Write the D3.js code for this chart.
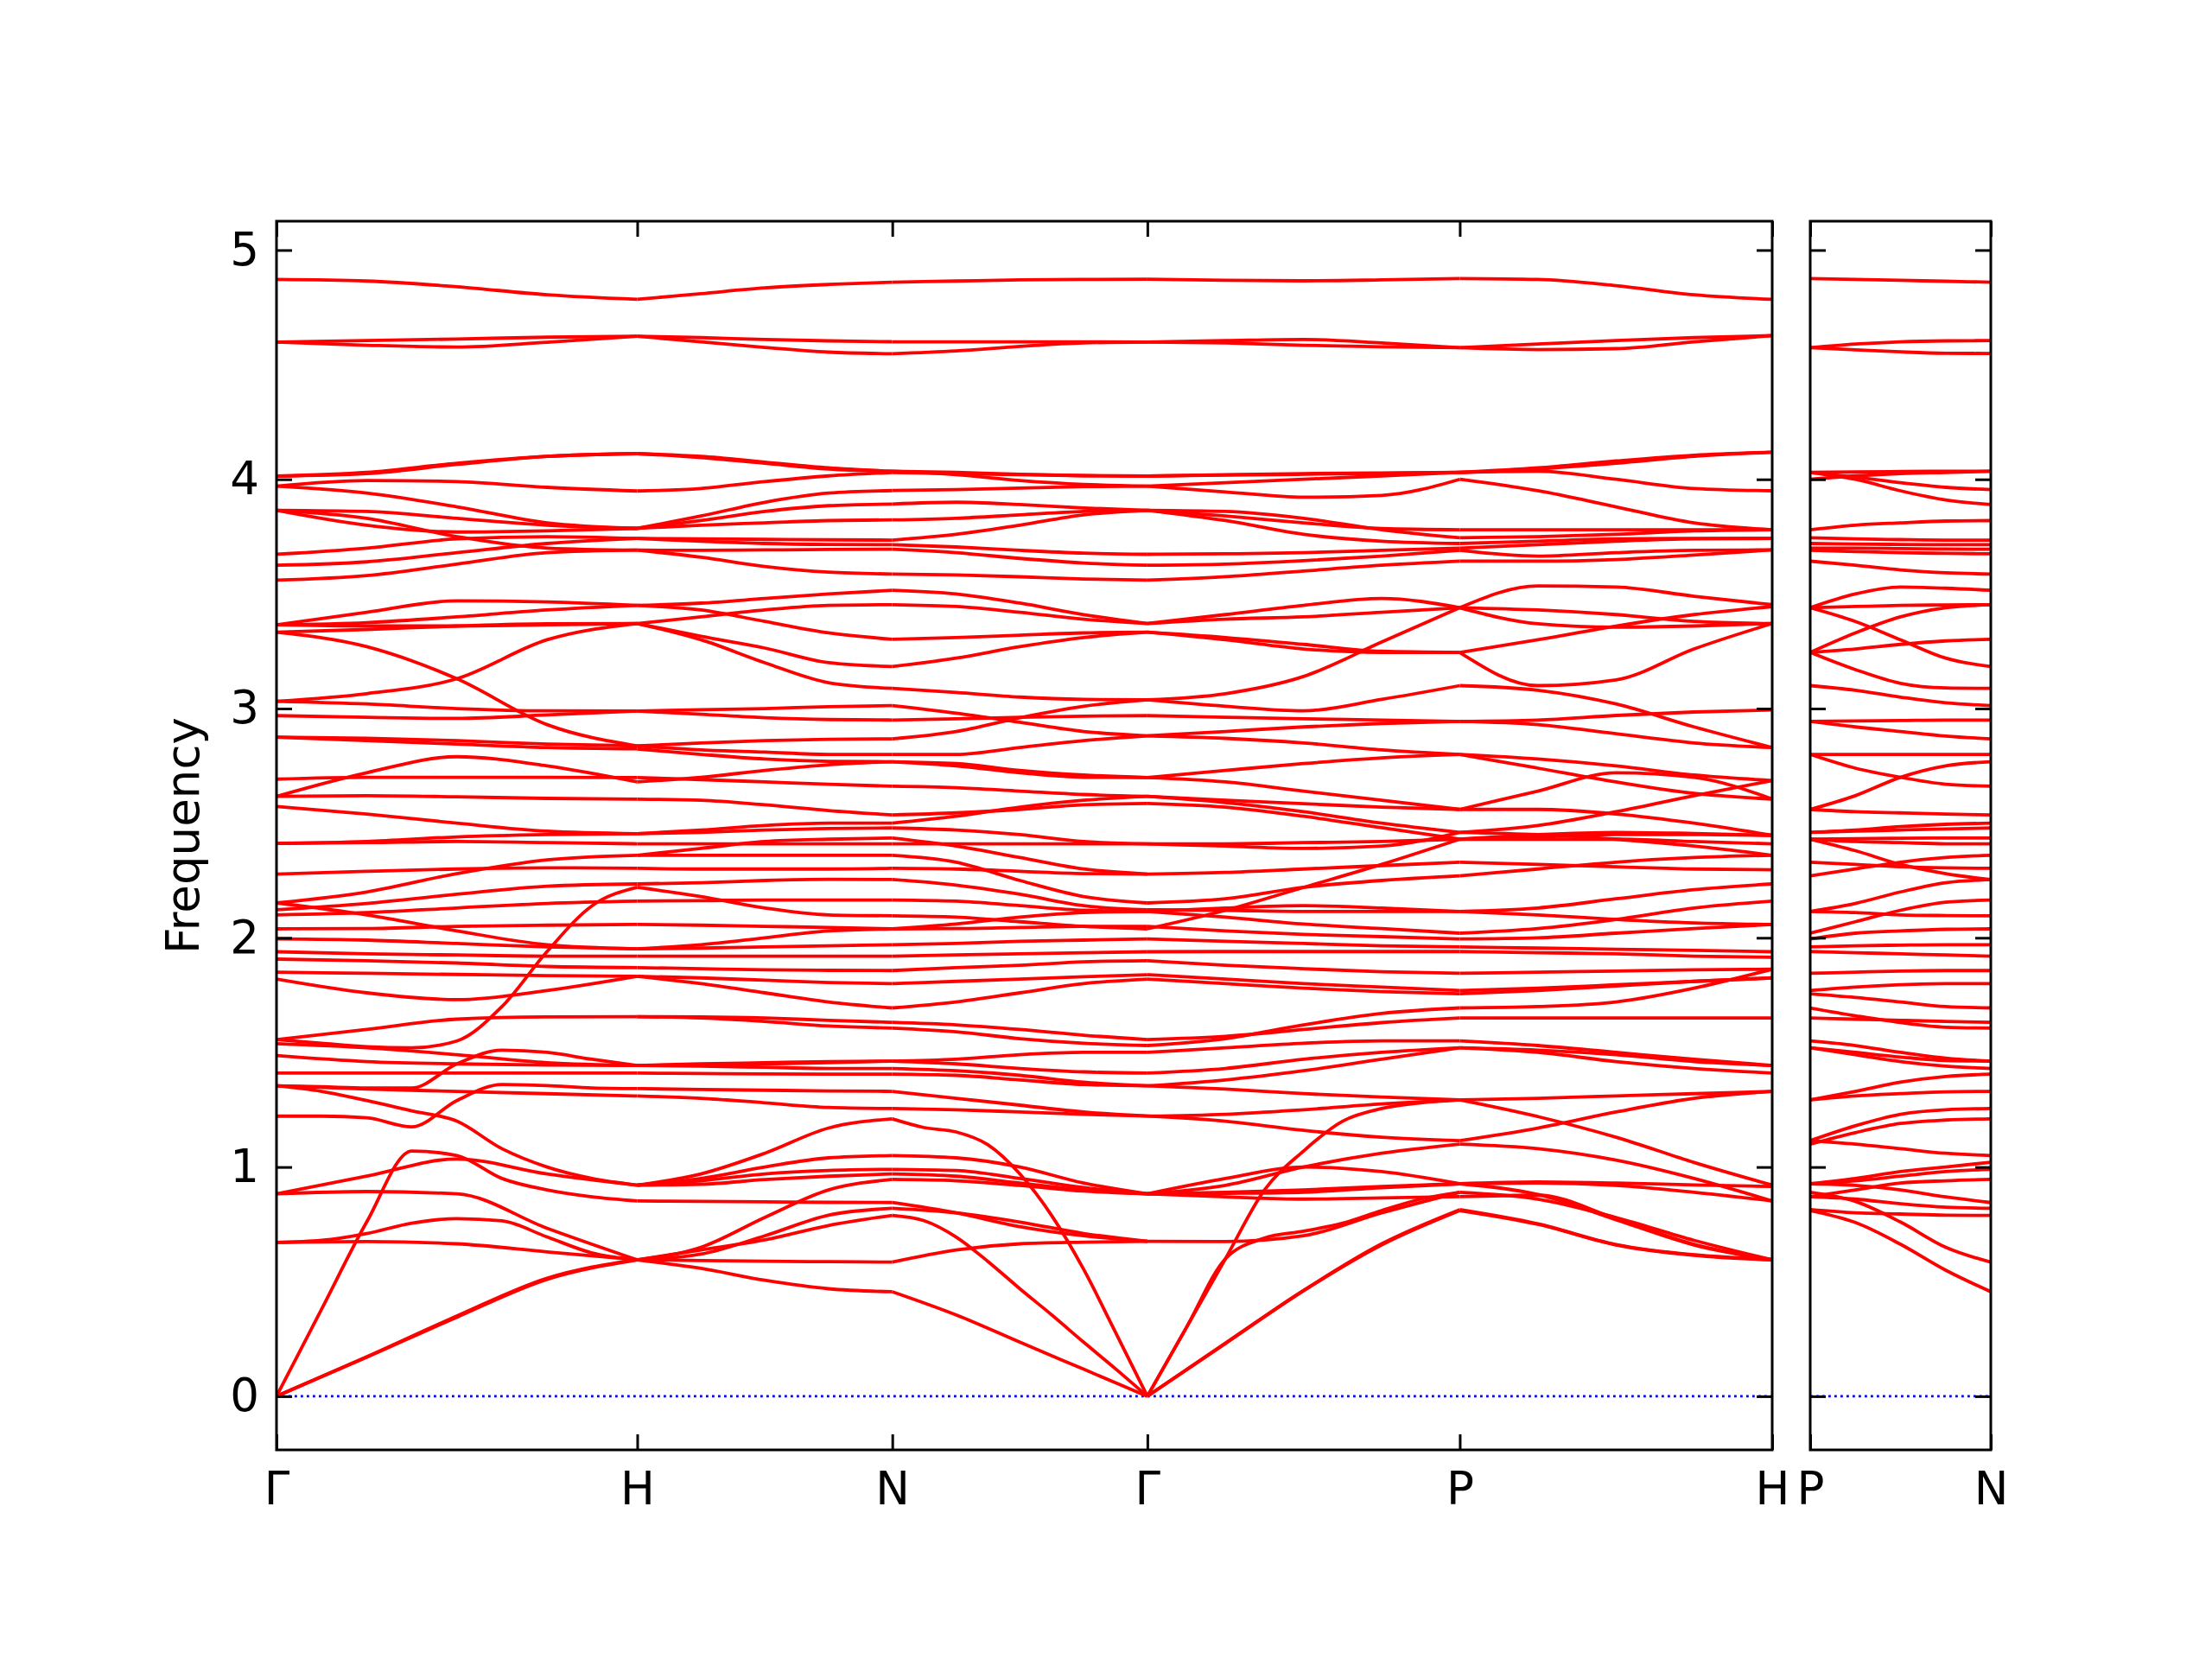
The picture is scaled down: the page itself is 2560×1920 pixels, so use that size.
<!DOCTYPE html>
<html><head><meta charset="utf-8">
<script src="https://cdn.jsdelivr.net/npm/d3@7"></script>
<style>body{margin:0;background:#fff}</style>
</head><body>
<svg id="c" width="2560" height="1920" xmlns="http://www.w3.org/2000/svg"></svg>
<script>
// ---- path / axis data ----
const pathLabels = ["Γ","H","N","Γ","P","H"];
const pathDist   = [0, 1, 1.7071, 2.4142, 3.2802, 4.1463];
const subLabels  = ["P","N"];
const subDist    = [0, 0.5];
const yTicks     = [0,1,2,3,4,5];
const yLimits    = [-0.234, 5.126];
const yLabel     = "Frequency";

// ---- band values per path segment (evenly spaced samples from start to end) ----
const bandsGH = [
[4.872,4.865,4.84,4.805,4.785],[4.599,4.605,4.612,4.62,4.624],[4.599,4.585,4.577,4.598,4.624],
[4.014,4.03,4.07,4.10,4.112],[4.014,4.025,4.065,4.10,4.112],[3.970,3.995,3.99,3.965,3.949],
[3.97,3.94,3.88,3.81,3.786],[3.865,3.86,3.83,3.80,3.786],[3.865,3.80,3.77,3.775,3.786],
[3.673,3.70,3.74,3.75,3.742],[3.625,3.64,3.68,3.72,3.742],[3.56,3.58,3.63,3.68,3.691],
[3.865,3.83,3.75,3.70,3.691],[3.365,3.42,3.47,3.465,3.45],[3.365,3.375,3.40,3.43,3.45],
[3.032,3.065,3.13,3.30,3.371],[3.333,3.345,3.36,3.37,3.371],[3.365,3.36,3.36,3.365,3.371],
[3.333,3.27,3.13,2.93,2.837],[3.032,3.02,3.00,2.99,2.989],[2.969,2.962,2.957,2.972,2.989],
[2.875,2.87,2.86,2.845,2.837],[2.875,2.86,2.845,2.83,2.824],[2.692,2.70,2.70,2.70,2.699],
[2.617,2.72,2.79,2.75,2.68],[2.573,2.54,2.50,2.465,2.454],[2.617,2.62,2.615,2.608,2.605],
[2.412,2.415,2.42,2.415,2.41],[2.412,2.42,2.44,2.45,2.454],[2.278,2.29,2.30,2.305,2.303],
[2.152,2.20,2.28,2.34,2.36],[2.122,2.15,2.19,2.225,2.235],[2.10,2.11,2.13,2.15,2.16],
[1.556,1.54,1.525,1.52,1.55,1.70,1.94,2.14,2.22],[2.039,2.04,2.05,2.055,2.058],
[1.995,1.99,1.975,1.96,1.952],[1.939,1.93,1.925,1.92,1.92],[1.907,1.90,1.89,1.875,1.87],
[1.85,1.845,1.84,1.835,1.832],[1.82,1.76,1.73,1.77,1.832],[2.152,2.10,2.03,1.97,1.952],
[1.556,1.60,1.645,1.655,1.656],[1.538,1.52,1.49,1.455,1.443],[1.486,1.46,1.45,1.445,1.443],
[1.41,1.41,1.41,1.41,1.41],[1.354,1.35,1.345,1.345,1.45,1.51,1.50,1.47,1.443],
[1.222,1.222,1.215,1.175,1.29,1.36,1.355,1.345,1.342],[1.354,1.34,1.33,1.32,1.31],
[1.354,1.33,1.29,1.245,1.20,1.08,1.00,0.95,0.921],[0.883,0.893,0.883,0.733,0.595],
[0.883,0.96,1.035,0.97,0.921],[0,0.38,0.76,1.07,1.05,0.95,0.90,0.87,0.852],
[0,0.17,0.345,0.51,0.595],[0,0.172,0.35,0.515,0.597],
[0.671,0.68,0.71,0.755,0.775,0.765,0.695,0.625,0.595],[0.671,0.675,0.665,0.63,0.595]
];
const bandsHN = [
[4.785,4.81,4.835,4.85,4.86],[4.624,4.618,4.61,4.604,4.60],[4.624,4.60,4.575,4.555,4.548],
[4.112,4.10,4.075,4.05,4.035],[4.112,4.095,4.07,4.045,4.035],[3.949,3.96,3.99,4.015,4.03],
[3.786,3.84,3.90,3.94,3.951],[3.786,3.82,3.86,3.885,3.892],[3.786,3.80,3.81,3.82,3.823],
[3.742,3.74,3.738,3.736,3.735],[3.742,3.73,3.72,3.716,3.715],[3.691,3.69,3.692,3.694,3.695],
[3.691,3.66,3.62,3.595,3.587],[3.45,3.46,3.48,3.50,3.516],[3.45,3.43,3.38,3.33,3.302],
[3.371,3.315,3.264,3.20,3.183],[3.371,3.30,3.20,3.113,3.088],[3.371,3.40,3.43,3.45,3.453],
[2.989,2.995,3.00,3.008,3.013],[2.989,2.975,2.96,2.952,2.95],[2.837,2.85,2.86,2.866,2.868],
[2.837,2.82,2.81,2.80,2.80],[2.824,2.80,2.78,2.77,2.768],[2.699,2.69,2.68,2.67,2.661],
[2.68,2.70,2.73,2.755,2.768],[2.605,2.60,2.58,2.555,2.536],[2.454,2.47,2.49,2.50,2.50],
[2.41,2.41,2.41,2.41,2.41],[2.454,2.46,2.47,2.477,2.479],[2.36,2.39,2.42,2.43,2.435],
[2.303,2.30,2.30,2.30,2.303],[2.36,2.36,2.36,2.36,2.36],[2.235,2.24,2.25,2.255,2.254],
[2.16,2.162,2.165,2.165,2.165],[2.22,2.18,2.13,2.10,2.096],[2.058,2.055,2.05,2.045,2.039],
[1.952,1.955,1.96,1.965,1.97],[1.952,1.97,2.00,2.03,2.039],[1.92,1.92,1.92,1.92,1.92],
[1.87,1.865,1.86,1.858,1.857],[1.832,1.825,1.815,1.805,1.80],[1.832,1.80,1.76,1.72,1.694],
[1.656,1.655,1.65,1.64,1.631],[1.656,1.65,1.635,1.615,1.606],[1.443,1.445,1.45,1.455,1.462],
[1.443,1.45,1.455,1.46,1.462],[1.443,1.44,1.435,1.43,1.43],[1.41,1.408,1.406,1.405,1.405],
[1.342,1.338,1.335,1.332,1.33],[1.31,1.30,1.28,1.26,1.255],[0.921,0.97,1.06,1.17,1.21],
[0.921,0.925,0.945,0.96,0.97],[0.921,0.94,0.97,0.985,0.99],[0.921,0.95,1.0,1.04,1.05],
[0.852,0.85,0.848,0.846,0.845],[0.595,0.62,0.70,0.79,0.82],[0.595,0.65,0.78,0.90,0.946],
[0.595,0.558,0.506,0.469,0.456],[0.595,0.638,0.682,0.745,0.789],[0.595,0.592,0.589,0.587,0.585]
];
const bandsNG = [
[4.86,4.865,4.87,4.872,4.873],[4.60,4.60,4.60,4.60,4.599],[4.548,4.56,4.58,4.595,4.599],
[4.035,4.03,4.022,4.016,4.014],[4.035,4.02,3.995,3.978,3.97],[4.03,4.025,4.02,4.016,4.014],
[3.951,3.955,3.962,3.968,3.97],[3.892,3.90,3.89,3.875,3.865],[3.823,3.83,3.845,3.86,3.865],
[3.735,3.76,3.80,3.845,3.865],[3.715,3.705,3.69,3.678,3.673],[3.695,3.68,3.655,3.635,3.625],
[3.587,3.583,3.575,3.565,3.56],[3.516,3.50,3.46,3.41,3.371],[3.453,3.445,3.42,3.39,3.371],
[3.302,3.31,3.32,3.33,3.333],[3.183,3.22,3.27,3.31,3.333],[3.088,3.07,3.05,3.04,3.038],
[3.013,2.98,2.94,2.90,2.881],[2.95,2.955,2.962,2.967,2.969],[2.868,2.90,2.96,3.01,3.038],
[2.80,2.80,2.83,2.86,2.881],[2.768,2.76,2.73,2.71,2.699],[2.768,2.75,2.72,2.70,2.699],
[2.661,2.655,2.64,2.625,2.617],[2.536,2.545,2.56,2.58,2.586],[2.50,2.53,2.57,2.60,2.617],
[2.479,2.47,2.45,2.42,2.41],[2.41,2.41,2.41,2.41,2.41],[2.435,2.40,2.35,2.30,2.278],
[2.303,2.30,2.29,2.28,2.278],[2.36,2.33,2.25,2.18,2.152],[2.254,2.23,2.19,2.14,2.122],
[2.165,2.16,2.14,2.12,2.115],[2.096,2.09,2.07,2.05,2.039],[2.039,2.04,2.045,2.05,2.05],
[2.039,2.06,2.09,2.11,2.115],[1.97,1.975,1.985,1.99,1.995],[1.92,1.925,1.93,1.935,1.939],
[1.857,1.87,1.88,1.895,1.90],[1.80,1.81,1.82,1.83,1.839],[1.694,1.72,1.76,1.80,1.82],
[1.631,1.62,1.60,1.575,1.556],[1.606,1.59,1.56,1.54,1.53],[1.462,1.47,1.49,1.50,1.50],
[1.462,1.45,1.43,1.415,1.41],[1.43,1.42,1.40,1.37,1.354],[1.405,1.40,1.38,1.36,1.354],
[1.33,1.30,1.27,1.24,1.222],[1.255,1.25,1.24,1.23,1.222],
[1.21,1.172,1.153,1.097,0.97,0.788,0.554,0.279,0],
[0.97,0.96,0.93,0.90,0.883],[0.99,0.985,0.95,0.91,0.883],[1.05,1.04,1.00,0.93,0.883],
[0.946,0.94,0.92,0.895,0.883],[0.845,0.80,0.74,0.70,0.676],[0.82,0.80,0.76,0.71,0.676],
[0.456,0.355,0.236,0.118,0],[0.789,0.766,0.695,0.588,0.469,0.355,0.236,0.12,0],
[0.585,0.638,0.665,0.672,0.676]
];
const bandsGP = [
[4.873,4.868,4.866,4.87,4.876],[4.599,4.605,4.61,4.595,4.574],[4.599,4.595,4.585,4.578,4.574],
[4.014,4.02,4.025,4.028,4.03],[3.97,3.985,4.0,4.015,4.03],[4.014,4.018,4.022,4.026,4.03],
[3.97,3.945,3.922,3.93,4.00],[3.865,3.84,3.81,3.785,3.78],[3.865,3.86,3.83,3.78,3.745],
[3.865,3.82,3.76,3.73,3.72],[3.673,3.675,3.68,3.69,3.70],[3.625,3.63,3.645,3.665,3.69],
[3.56,3.575,3.60,3.625,3.643],[3.371,3.41,3.45,3.48,3.44],[3.371,3.39,3.40,3.42,3.44],
[3.333,3.31,3.28,3.25,3.245],[3.333,3.30,3.26,3.245,3.245],[3.038,3.065,3.14,3.29,3.44],
[3.038,3.01,2.99,3.04,3.10],[2.969,2.962,2.955,2.95,2.944],[2.881,2.87,2.85,2.82,2.80],
[2.881,2.90,2.92,2.935,2.944],[2.699,2.73,2.76,2.785,2.80],[2.699,2.68,2.64,2.60,2.56],
[2.617,2.60,2.585,2.57,2.56],[2.617,2.59,2.55,2.50,2.46],[2.586,2.57,2.53,2.48,2.43],
[2.41,2.41,2.415,2.42,2.43],[2.41,2.40,2.39,2.40,2.46],[2.278,2.285,2.30,2.315,2.33],
[2.152,2.17,2.22,2.25,2.27],[2.122,2.12,2.115,2.115,2.115],[2.115,2.09,2.06,2.04,2.02],
[2.039,2.12,2.22,2.32,2.43],[2.05,2.03,2.015,2.005,1.995],[2.115,2.13,2.14,2.13,2.115],
[1.995,1.985,1.975,1.965,1.96],[1.939,1.94,1.94,1.94,1.94],[1.90,1.88,1.865,1.852,1.845],
[1.839,1.82,1.80,1.785,1.77],[1.82,1.80,1.78,1.765,1.756],[1.556,1.57,1.60,1.63,1.65],
[1.53,1.56,1.62,1.67,1.694],[1.50,1.52,1.54,1.55,1.55],[1.41,1.43,1.47,1.50,1.52],
[1.354,1.34,1.32,1.305,1.293],[1.354,1.38,1.42,1.47,1.52],[1.222,1.23,1.25,1.275,1.293],
[1.222,1.20,1.16,1.13,1.115],[0,0.30,0.60,0.90,1.07,1.20,1.255,1.28,1.293],
[0,0.30,0.60,0.69,0.72,0.755,0.81,0.86,0.89],[0.676,0.675,0.70,0.80,0.89],
[0.883,0.89,0.90,0.915,0.927],[0.883,0.95,1.0,0.98,0.927],[0.883,0.87,0.86,0.865,0.871],
[0.883,0.92,1.0,1.06,1.10],[0.883,0.885,0.89,0.91,0.927],
[0,0.23,0.46,0.66,0.81],[0,0.232,0.462,0.665,0.814]
];
const bandsPH = [
[4.876,4.872,4.845,4.805,4.785],[4.574,4.59,4.605,4.618,4.627],[4.574,4.566,4.57,4.60,4.627],
[4.03,4.05,4.08,4.105,4.118],[4.03,4.045,4.07,4.10,4.118],[4.03,4.035,4.0,3.96,3.95],
[4.00,3.95,3.88,3.81,3.78],[3.78,3.78,3.78,3.78,3.78],[3.745,3.75,3.76,3.775,3.78],
[3.72,3.73,3.74,3.742,3.742],[3.70,3.715,3.73,3.74,3.742],[3.69,3.665,3.68,3.69,3.692],
[3.643,3.643,3.65,3.67,3.692],[3.44,3.535,3.53,3.49,3.453],[3.44,3.37,3.355,3.36,3.371],
[3.245,3.30,3.36,3.41,3.445],[3.245,3.10,3.125,3.26,3.371],[3.44,3.43,3.41,3.38,3.371],
[3.10,3.08,3.02,2.92,2.83],[2.944,2.95,2.97,2.985,2.994],[2.944,2.93,2.89,2.85,2.83],
[2.80,2.78,2.75,2.71,2.686],[2.80,2.74,2.68,2.63,2.605],[2.56,2.64,2.72,2.70,2.605],
[2.56,2.56,2.54,2.50,2.447],[2.46,2.49,2.55,2.62,2.686],[2.43,2.43,2.43,2.42,2.41],
[2.43,2.44,2.45,2.45,2.447],[2.46,2.45,2.43,2.40,2.36],[2.33,2.32,2.31,2.30,2.297],
[2.27,2.30,2.33,2.35,2.36],[2.115,2.13,2.17,2.21,2.235],[2.02,2.04,2.08,2.13,2.16],
[2.43,2.45,2.46,2.455,2.447],[1.995,2.00,2.02,2.04,2.058],[2.115,2.10,2.08,2.065,2.058],
[1.96,1.955,1.95,1.945,1.939],[1.94,1.935,1.93,1.92,1.915],[1.845,1.85,1.855,1.86,1.863],
[1.77,1.78,1.795,1.81,1.825],[1.756,1.77,1.79,1.81,1.825],[1.65,1.65,1.65,1.65,1.65],
[1.694,1.70,1.72,1.78,1.863],[1.55,1.53,1.50,1.47,1.443],[1.52,1.50,1.46,1.43,1.41],
[1.52,1.51,1.49,1.46,1.443],[1.293,1.30,1.31,1.32,1.33],[1.293,1.22,1.13,1.02,0.921],
[1.115,1.17,1.24,1.30,1.33],[1.10,1.08,1.03,0.95,0.852],[0.927,0.935,0.93,0.922,0.915],
[0.927,0.93,0.92,0.89,0.852],[0.871,0.877,0.776,0.663,0.595],[0.89,0.86,0.78,0.68,0.595],
[0.81,0.75,0.66,0.615,0.595],[0.814,0.752,0.662,0.617,0.597],[0.927,0.88,0.77,0.66,0.595]
];
const bandsPN = [
[4.876,4.872,4.868,4.864,4.86],[4.574,4.59,4.60,4.604,4.605],[4.574,4.565,4.556,4.55,4.549],
[4.03,4.032,4.034,4.035,4.035],[4.03,4.01,3.985,3.965,3.955],[4.03,4.0,3.95,3.91,3.89],
[4.00,4.015,4.025,4.03,4.035],[3.78,3.80,3.81,3.818,3.82],[3.745,3.74,3.737,3.735,3.735],
[3.72,3.718,3.716,3.715,3.715],[3.70,3.70,3.698,3.696,3.695],[3.69,3.685,3.68,3.677,3.675],
[3.643,3.625,3.605,3.592,3.587],[3.44,3.50,3.53,3.525,3.516],[3.44,3.445,3.45,3.452,3.453],
[3.44,3.38,3.30,3.22,3.183],[3.245,3.33,3.40,3.44,3.453],[3.245,3.26,3.28,3.295,3.302],
[3.245,3.17,3.11,3.09,3.088],[3.10,3.08,3.05,3.025,3.013],[2.944,2.946,2.948,2.95,2.95],
[2.944,2.92,2.90,2.88,2.868],[2.80,2.80,2.80,2.80,2.80],[2.80,2.74,2.70,2.67,2.661],
[2.56,2.62,2.70,2.75,2.768],[2.56,2.55,2.545,2.54,2.536],[2.46,2.47,2.485,2.495,2.50],
[2.46,2.465,2.47,2.475,2.479],[2.43,2.432,2.434,2.435,2.435],[2.43,2.42,2.415,2.41,2.41],
[2.33,2.32,2.31,2.305,2.303],[2.27,2.30,2.33,2.35,2.36],[2.115,2.15,2.20,2.24,2.254],
[2.02,2.07,2.12,2.155,2.165],[2.43,2.38,2.32,2.28,2.254],[1.995,2.02,2.03,2.037,2.039],
[2.115,2.11,2.10,2.097,2.096],[1.96,1.965,1.968,1.97,1.97],[1.94,1.935,1.93,1.925,1.92],
[1.845,1.85,1.855,1.857,1.857],[1.77,1.785,1.795,1.80,1.80],[1.756,1.74,1.72,1.70,1.694],
[1.65,1.645,1.64,1.635,1.631],[1.694,1.66,1.63,1.61,1.606],[1.55,1.53,1.50,1.475,1.462],
[1.52,1.50,1.48,1.465,1.462],[1.52,1.49,1.46,1.44,1.43],[1.293,1.33,1.37,1.395,1.405],
[1.293,1.31,1.32,1.328,1.33],[1.115,1.18,1.23,1.25,1.255],[1.10,1.15,1.19,1.205,1.21],
[1.115,1.10,1.08,1.06,1.05],[0.927,0.95,0.98,1.0,1.021],[0.927,0.92,0.90,0.87,0.845],
[0.871,0.90,0.93,0.94,0.946],[0.927,0.94,0.96,0.98,0.99],[0.89,0.85,0.76,0.65,0.585],
[0.81,0.758,0.663,0.55,0.456],[0.814,0.80,0.795,0.79,0.789],[0.871,0.86,0.84,0.825,0.82]
];

// ---- layout ----
const mainBox = {left:320, right:2051, top:256, bottom:1678};
const subBox  = {left:2095, right:2304, top:256, bottom:1678};
const tickLen = 18, axisW = 3, lineW = 3.8, fontSize = 53;
const font = '"DejaVu Sans", sans-serif';

const svg = d3.select("#c");
svg.append("rect").attr("width",2560).attr("height",1920).attr("fill","#fff");

const xMain = d3.scaleLinear().domain([pathDist[0], pathDist[pathDist.length-1]]).range([mainBox.left, mainBox.right]);
const xSub  = d3.scaleLinear().domain([subDist[0], subDist[1]]).range([subBox.left, subBox.right]);
const y     = d3.scaleLinear().domain(yLimits).range([mainBox.bottom, mainBox.top]);

const defs = svg.append("defs");
[["clipMain",mainBox],["clipSub",subBox]].forEach(([id,b])=>{
  defs.append("clipPath").attr("id",id).append("rect")
    .attr("x",b.left).attr("y",b.top).attr("width",b.right-b.left).attr("height",b.bottom-b.top);
});

const gMain = svg.append("g").attr("clip-path","url(#clipMain)");
const gSub  = svg.append("g").attr("clip-path","url(#clipSub)");

// zero lines
[[gMain,xMain,pathDist],[gSub,xSub,subDist]].forEach(([g,xs,dom])=>{
  g.append("line").attr("x1",xs(dom[0])).attr("x2",xs(dom[dom.length-1]))
    .attr("y1",y(0)).attr("y2",y(0))
    .attr("stroke","#0000ff").attr("stroke-width",2.6).attr("stroke-dasharray","2.8,4.2");
});

function drawSegment(g, xs, d0, d1, bands){
  const line = d3.line().x(p=>xs(p[0])).y(p=>y(p[1])).curve(d3.curveMonotoneX);
  g.append("g").selectAll("path").data(bands).enter().append("path")
    .attr("d", vals => line(vals.map((v,i)=>[d0 + (d1-d0)*i/(vals.length-1), v])))
    .attr("fill","none").attr("stroke","#ff0000").attr("stroke-width",lineW)
    .attr("stroke-linejoin","round");
}
const mainSegments = [bandsGH, bandsHN, bandsNG, bandsGP, bandsPH];
mainSegments.forEach((b,i)=>drawSegment(gMain, xMain, pathDist[i], pathDist[i+1], b));
drawSegment(gSub, xSub, subDist[0], subDist[1], bandsPN);

// axes
function styleAxis(g){
  g.select(".domain").remove();
  g.selectAll(".tick line").attr("stroke","#000").attr("stroke-width",axisW);
  g.selectAll("text").attr("font-family",font).attr("font-size",fontSize).attr("fill","#000");
}
function boxAxes(b, xs, ticksX, labelsX, showY){
  svg.append("g").attr("transform",`translate(${b.left},0)`)
    .call(d3.axisLeft(y).tickValues(yTicks).tickSize(-tickLen).tickPadding(20)
      .tickFormat(showY ? d3.format("d") : ()=>""))
    .call(styleAxis);
  svg.append("g").attr("transform",`translate(${b.right},0)`)
    .call(d3.axisRight(y).tickValues(yTicks).tickSize(-tickLen).tickFormat(()=>""))
    .call(styleAxis);
  svg.append("g").attr("transform",`translate(0,${b.top})`)
    .call(d3.axisTop(xs).tickValues(ticksX).tickSize(-tickLen).tickFormat(()=>""))
    .call(styleAxis);
  svg.append("g").attr("transform",`translate(0,${b.bottom})`)
    .call(d3.axisBottom(xs).tickValues(ticksX).tickSize(-tickLen).tickPadding(25)
      .tickFormat((d,i)=>labelsX[i]))
    .call(styleAxis);
  svg.append("rect").attr("x",b.left).attr("y",b.top)
    .attr("width",b.right-b.left).attr("height",b.bottom-b.top)
    .attr("fill","none").attr("stroke","#000").attr("stroke-width",axisW);
}
boxAxes(mainBox, xMain, pathDist, pathLabels, true);
boxAxes(subBox, xSub, subDist, subLabels, false);

svg.append("text")
  .attr("transform",`translate(230,${(mainBox.top+mainBox.bottom)/2}) rotate(-90)`)
  .attr("text-anchor","middle").attr("font-family",font).attr("font-size",fontSize)
  .attr("fill","#000").text(yLabel);
</script>
</body></html>
